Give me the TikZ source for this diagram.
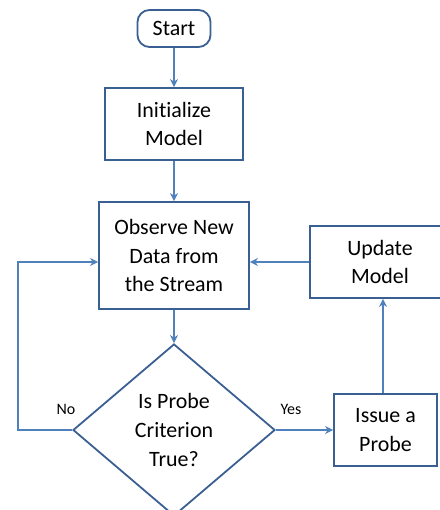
\documentclass[tikz,border=0pt]{standalone}
\usepackage{fontspec}
\setmainfont[Ligatures=NoCommon]{Carlito}
\usetikzlibrary{shapes.geometric,arrows.meta}

\definecolor{boxline}{HTML}{3A5F93}
\definecolor{arrline}{HTML}{4F81BD}

\tikzset{
 box/.style={draw=boxline,line width=1.8bp,align=center,inner sep=0pt,
  font=\fontsize{22}{29}\selectfont},
 term/.style={box,rounded corners=12bp,minimum width=73bp,minimum height=37bp},
 test/.style={box,diamond,minimum width=202bp,minimum height=172bp},
 flow/.style={draw=arrline,line width=1.4bp,
  -{Stealth[length=8bp,width=8bp,inset=2.5bp]}},
 tag/.style={font=\fontsize{16}{20}\selectfont}
}

\begin{document}
\begin{tikzpicture}[x=1bp,y=-1bp]
\useasboundingbox (0,0) rectangle (440,510);

% main column
\def\cx{174} \def\cy{430}
\node[term] (start) at (\cx,28.5) {Start};
\node[box,minimum width=138bp,minimum height=72bp] (init) at (\cx,124) {Initialize\\Model};
\node[box,minimum width=150bp,minimum height=107bp] (obs) at (\cx,255.5)
 {Observe New\\Data from\\the Stream};
\node[test] (crit) at (\cx,\cy) {Is Probe\\Criterion\\True?};

% right column
\node[box,minimum width=103bp,minimum height=72bp] (probe) at (385.5,\cy) {Issue a\\Probe};
\node[box,minimum width=140bp,minimum height=72bp] (upd) at (380,262) {Update\\Model};

\coordinate (back) at (18,\cy);
\coordinate (up) at (383,0);

\draw[flow] (start) -- (init);
\draw[flow] (init) -- (obs);
\draw[flow] (obs) -- (crit);
\draw[flow] (crit.east) -- (probe.west);
\draw[flow] (probe.north -| up) -- (upd.south -| up);
\draw[flow] (upd.west) -- (obs.east |- upd.west);
\draw[flow] (crit.west) -- (back) |- (obs.west |- upd.west);

\node[tag] (no) at (66,409) {No};
\node[tag] (yes) at (291,409) {Yes};

\end{tikzpicture}
\end{document}
